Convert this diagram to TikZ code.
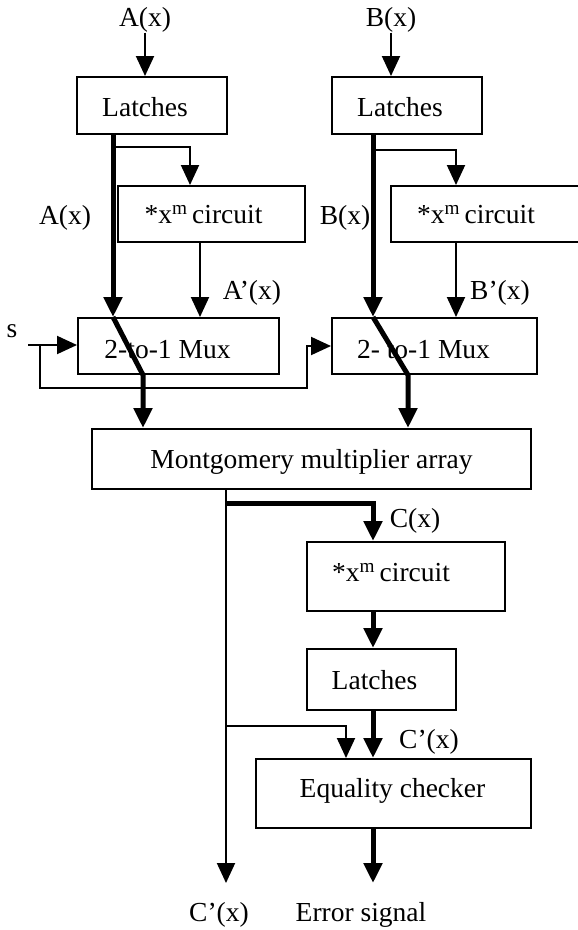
\documentclass[tikz,border=0pt]{standalone}
\usepackage{fontspec}
\setmainfont{Liberation Serif}
\usetikzlibrary{arrows.meta}
\begin{document}
\begin{tikzpicture}[x=1pt,y=-1pt,
  every node/.style={font=\fontsize{27.5}{32}\selectfont, inner sep=0pt},
  box/.style={draw, line width=2pt, inner sep=0pt},
  wire/.style={line width=2pt},
  bus/.style={line width=5pt},
  arr/.style={-{Triangle[length=20pt,width=18pt]}}]
\useasboundingbox (0,0) rectangle (578,930);
\clip (0,0) rectangle (578,930);
\fill[white] (0,0) rectangle (578,930);

% boxes
\node[box, minimum width=150pt, minimum height=57pt, label={[xshift=-7pt,yshift=-2pt]center:Latches}] (latA) at (152,105.5) {};
\node[box, minimum width=187pt, minimum height=56pt, label={[xshift=-8pt,yshift=-1pt]center:{*x\textsuperscript{m}\,circuit}}] (xmA) at (211.5,214) {};
\node[box, minimum width=201pt, minimum height=56pt, label={[xshift=-11pt,yshift=-4pt]center:2-to-1 Mux}] (muxA) at (178.5,346) {};
\node[box, minimum width=150pt, minimum height=57pt, label={[xshift=-7pt,yshift=-2pt]center:Latches}] (latB) at (407,105.5) {};
\node[box, minimum width=229pt, minimum height=56pt, label={[xshift=-29.5pt,yshift=-1pt]center:{*x\textsuperscript{m}\,circuit}}] (xmB) at (505.5,214) {};
\node[box, minimum width=205pt, minimum height=56pt, label={[xshift=-11pt,yshift=-4pt]center:2- to-1 Mux}] (muxB) at (434.5,346) {};
\node[box, minimum width=439pt, minimum height=60pt, label={[yshift=-3pt]center:Montgomery multiplier array}] (mont) at (311.5,459) {};
\node[box, minimum width=198pt, minimum height=69pt, label={[xshift=-15pt,yshift=4pt]center:{*x\textsuperscript{m}\,circuit}}] (xmC) at (406,576.5) {};
\node[box, minimum width=149pt, minimum height=61pt, label={[xshift=-7pt,yshift=-1pt]center:Latches}] (latC) at (381.5,679.5) {};
\node[box, minimum width=275pt, minimum height=69pt, label={[xshift=-1pt,yshift=3pt]center:Equality checker}] (eq) at (393.5,793.5) {};

% labels
\node (lA) at (145,20) {A(x)};
\node (lB) at (391,20) {B(x)};
\node (lA2) at (65,218) {A(x)};
\node (lB2) at (345,218) {B(x)};
\node (lAp) at (252,293) {A’(x)};
\node (lBp) at (500,293) {B’(x)};
\node (ls) at (12,331) {s};
\node (lC) at (415,521) {C(x)};
\node (lCp) at (429,742) {C’(x)};
\node (lCo) at (219,915) {C’(x)};
\node (lE) at (361,915) {Error signal};

% x positions
\coordinate (xa1) at (113,0);
\coordinate (xa2) at (190,0);
\coordinate (xa3) at (200,0);
\coordinate (xa4) at (143,0);
\coordinate (xb1) at (373,0);
\coordinate (xb2) at (456,0);
\coordinate (xb4) at (408,0);
\coordinate (xc1) at (226,0);
\coordinate (xc2) at (373,0);
\coordinate (xc3) at (346,0);
\coordinate (brA) at (113,147);
\coordinate (brB) at (373,150);
\coordinate (sIn) at (28,345);
\coordinate (fb1) at (40,345);
\coordinate (fb2) at (307,388);
\coordinate (brC) at (226,503);
\coordinate (brC2) at (226,726);
\coordinate (outC) at (226,883);
\coordinate (outE) at (373,883);

% left column
\draw[wire,arr] (lA.south) -- (latA.north -| lA.south);
\draw[bus,arr] (latA.south -| xa1) -- (muxA.north -| xa1);
\draw[wire,arr] (brA) -| (xmA.north -| xa2);
\draw[wire,arr] (xmA.south -| xa3) -- (muxA.north -| xa3);
\draw[bus,arr] (muxA.north -| xa1) -- (muxA.south -| xa4) -- (mont.north -| xa4);
\draw[wire,arr] (sIn) -- (muxA.west |- sIn);
\draw[wire,arr] (fb1) |- (fb2) |- (muxB.west);

% right column
\draw[wire,arr] (lB.south) -- (latB.north -| lB.south);
\draw[bus,arr] (latB.south -| xb1) -- (muxB.north -| xb1);
\draw[wire,arr] (brB) -| (xmB.north -| xb2);
\draw[wire,arr] (xmB.south -| xb2) -- (muxB.north -| xb2);
\draw[bus,arr] (muxB.north -| xb1) -- (muxB.south -| xb4) -- (mont.north -| xb4);

% bottom
\draw[wire,arr] (mont.south -| xc1) -- (outC);
\draw[bus,arr] (brC) -| (xmC.north -| xc2);
\draw[bus,arr] (xmC.south -| xc2) -- (latC.north -| xc2);
\draw[bus,arr] (latC.south -| xc2) -- (eq.north -| xc2);
\draw[wire,arr] (brC2) -| (eq.north -| xc3);
\draw[bus,arr] (eq.south -| xc2) -- (outE);
\end{tikzpicture}
\end{document}
